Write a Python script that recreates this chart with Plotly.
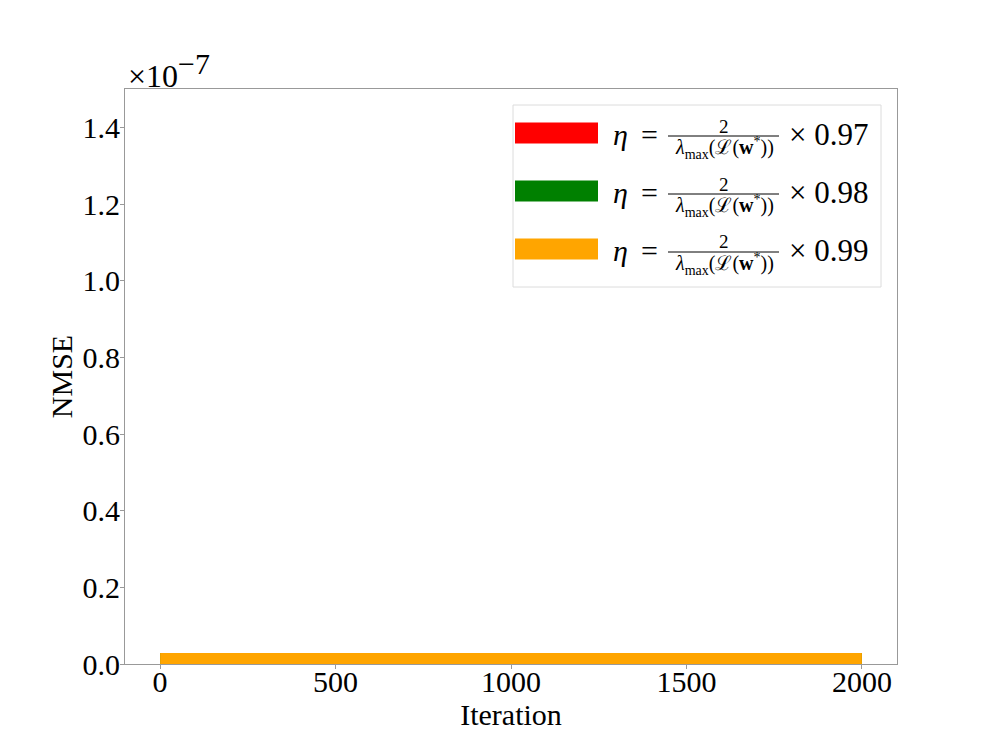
import plotly.graph_objects as go

# ---------------- data ----------------
iterations = [0, 100, 200, 300, 400, 500, 600, 700, 800, 900, 1000,
              1100, 1200, 1300, 1400, 1500, 1600, 1700, 1800, 1900, 2000]
nmse_097 = [1e-10] * 21
nmse_098 = [1e-10] * 21
nmse_099 = [1e-10] * 21
series_names = ["0.97", "0.98", "0.99"]
series_values = [nmse_097, nmse_098, nmse_099]
colors = ["#ff0000", "#008000", "#ffa500"]

y_tickvals = [0, 0.2e-7, 0.4e-7, 0.6e-7, 0.8e-7, 1.0e-7, 1.2e-7, 1.4e-7]
y_ticktext = ["0.0", "0.2", "0.4", "0.6", "0.8", "1.0", "1.2", "1.4"]
x_tickvals = [0, 500, 1000, 1500, 2000]

FONT = "Liberation Serif"
OFF = 8  # page body margin
W, H = 997 - 2 * OFF, 747 - 2 * OFF
L, R, T, B = 125, 897, 89, 664  # target plot-area pixels in the window


def px(X):
    return (X - L) / (R - L)


def py(Y):
    return (B - Y) / (B - T)


fig = go.Figure()
for name, vals, c in zip(series_names, series_values, colors):
    fig.add_trace(go.Scatter(x=iterations, y=vals, mode="lines",
                             line=dict(color=c, width=21),
                             name=name, showlegend=False))

shapes = []
annotations = []

# legend box
shapes.append(dict(type="rect", xref="paper", yref="paper",
                   x0=px(513), x1=px(881), y0=py(287), y1=py(105),
                   line=dict(color="#dcdcdc", width=1),
                   fillcolor="rgba(255,255,255,0.8)", layer="above"))

centers = [133, 191, 249]
for name, c, yc in zip(series_names, colors, centers):
    shapes.append(dict(type="rect", xref="paper", yref="paper",
                       x0=px(515), x1=px(598), y0=py(yc + 10.5), y1=py(yc - 10.5),
                       line=dict(width=0), fillcolor=c, layer="above"))
    annotations.append(dict(xref="paper", yref="paper", x=px(611), y=py(yc + 1),
                            xanchor="left", yanchor="middle", showarrow=False,
                            text="<i>η</i>", font=dict(family=FONT, size=30, color="black")))
    annotations.append(dict(xref="paper", yref="paper", x=px(649), y=py(yc + 1),
                            xanchor="center", yanchor="middle", showarrow=False,
                            text="=", font=dict(family=FONT, size=30, color="black")))
    annotations.append(dict(xref="paper", yref="paper", x=px(724), y=py(yc - 7),
                            xanchor="center", yanchor="middle", showarrow=False,
                            text="2", font=dict(family=FONT, size=19, color="black")))
    shapes.append(dict(type="line", xref="paper", yref="paper",
                       x0=px(668), x1=px(779), y0=py(yc + 3), y1=py(yc + 3),
                       line=dict(color="black", width=1), layer="above"))
    annotations.append(dict(xref="paper", yref="paper", x=px(724), y=py(yc + 15),
                            xanchor="center", yanchor="middle", showarrow=False,
                            text="<i>λ</i><sub>max</sub>(ℒ(<b>w</b><sup>*</sup>))",
                            font=dict(family=FONT, size=20, color="black")))
    annotations.append(dict(xref="paper", yref="paper", x=px(787), y=py(yc + 1),
                            xanchor="left", yanchor="middle", showarrow=False,
                            text="× " + name, font=dict(family=FONT, size=31, color="black")))

# offset text
annotations.append(dict(xref="paper", yref="paper", x=px(126), y=py(96), xanchor="left",
                        yanchor="bottom", showarrow=False,
                        text="×10<sup><span style='font-size:30px'>−7</span></sup>",
                        font=dict(family=FONT, size=32, color="black")))

fig.update_layout(
    width=W, height=H,
    margin=dict(l=L - OFF, r=OFF + W - R, t=T - OFF, b=OFF + H - B, pad=0),
    paper_bgcolor="white", plot_bgcolor="white",
    font=dict(family=FONT, size=30, color="black"),
    shapes=shapes, annotations=annotations,
    showlegend=False,
)
fig.update_xaxes(range=[-100, 2100], tickvals=x_tickvals, showgrid=False, zeroline=False,
                 showline=True, mirror=True, linecolor="#999999", linewidth=1,
                 ticks="outside", ticklen=4, tickcolor="#999999",
                 ticklabelstandoff=-13,
                 tickfont=dict(family=FONT, size=30, color="black"),
                 title=dict(text="Iteration", standoff=0,
                            font=dict(family=FONT, size=30, color="black")))
fig.update_yaxes(range=[0, 1.5e-7], tickvals=y_tickvals, ticktext=y_ticktext,
                 showgrid=False, zeroline=False,
                 showline=True, mirror=True, linecolor="#999999", linewidth=1,
                 ticks="outside", ticklen=4, tickcolor="#999999",
                 ticklabelstandoff=-6,
                 tickfont=dict(family=FONT, size=30, color="black"),
                 title=dict(text="NMSE", standoff=1,
                            font=dict(family=FONT, size=30, color="black")))

fig.write_html("out.html")
